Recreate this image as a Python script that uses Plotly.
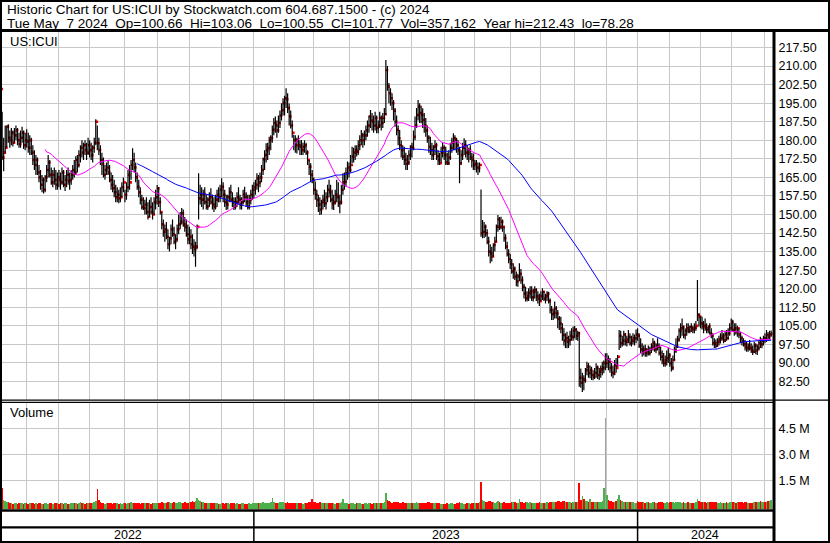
import plotly.graph_objects as go
import pandas as pd

# ---------------- data ----------------
months = ["2022-05", "2022-06", "2022-07", "2022-08", "2022-09", "2022-10", "2022-11", "2022-12",
          "2023-01", "2023-02", "2023-03", "2023-04", "2023-05", "2023-06", "2023-07", "2023-08",
          "2023-09", "2023-10", "2023-11", "2023-12", "2024-01", "2024-02", "2024-03", "2024-04", "2024-05"]

high_by_month = [
    [203, 191.5, 181, 186, 186, 186.5, 184, 185, 184, 185, 186, 185, 183, 184, 185.5, 184, 183],
    [184.5, 183, 182, 181, 178, 176, 174, 173, 170, 168, 166, 165, 166, 170, 174, 172, 169, 168, 169, 168, 167],
    [168, 167, 169, 168, 166, 168, 169, 167, 168, 170, 172, 173.5, 174, 176, 178, 180, 179, 180, 179, 181],
    [180, 179, 178, 181, 188.5, 186, 181, 178, 175, 173, 170, 171, 172, 170, 167, 166, 164, 162, 161, 160, 161, 163, 165],
    [160, 163, 168, 170, 172, 176.8, 175, 171, 167, 164, 161, 158, 157, 156, 157, 155, 156, 157, 155, 157, 160],
    [161.9, 161, 157, 151, 148, 146, 147, 144, 141, 146, 148, 145, 142, 146, 150, 151, 152.6, 152, 149, 148, 146],
    [145, 144, 142, 140, 139, 146, 166.7, 162, 161, 160, 161, 158, 157, 159, 160.6, 158, 157, 158, 160, 161, 162],
    [164.6, 163, 160, 158, 158, 161, 162, 159, 157, 157, 159, 161, 158, 157, 160, 161.2, 159, 158, 158, 160, 162],
    [163, 164, 166.7, 166, 167, 170, 173, 176, 178.8, 179, 181.4, 182, 186, 189, 189.6, 188, 190, 192, 195, 197],
    [198, 201, 199, 194.9, 192, 188, 182.1, 182, 181, 182, 180, 180.1, 179, 180, 179, 176, 172, 170.7, 168],
    [165, 163.3, 160, 158, 157, 156, 158, 160, 159, 162, 164, 162, 160, 158, 160, 164, 163, 158, 162, 166.7, 167, 169, 171.4],
    [171, 174, 177.4, 177, 178, 178, 180, 182, 184.2, 183, 184, 186, 188, 190, 192.2, 191, 190, 191.5, 190],
    [188, 191.5, 190, 191, 193, 212.43, 210, 203.2, 201, 199, 196.3, 193, 190, 186, 184.2, 180, 178, 177.4, 175, 174, 176, 178],
    [179, 184, 189.6, 193, 196.3, 195, 194, 192.9, 191, 189, 186, 182, 181.4, 179, 178, 180, 179, 176, 175, 177.4, 179],
    [178, 177.4, 175, 176, 179, 181, 182.8, 182, 181, 180, 177.4, 176, 179, 180.8, 180, 178, 177, 178, 175, 174.7],
    [172, 172, 171, 171, 160.1, 147.8, 147, 146, 144, 141, 138, 137, 138.4, 141, 146, 149.8, 149, 149.1, 148, 145, 142, 139, 136],
    [134, 132, 130.3, 129, 127, 126, 130.3, 128, 125, 122, 120.8, 119, 120.2, 121, 121, 120, 121, 120.2, 119, 118],
    [119, 120.2, 119, 118, 119, 118.8, 116, 113, 112, 114.8, 113, 111.4, 109, 108.7, 106, 104, 102, 102.6, 101, 103, 104, 104.7],
    [104.9, 104, 103, 102.6, 87.8, 86, 85, 88, 90.5, 90, 89, 88.5, 87, 88, 89.9, 89, 88, 89, 90.5, 91, 93.9],
    [93.9, 93, 92, 90, 89, 91.2, 92, 93.2, 103.3, 103, 101, 103, 102, 101, 103.3, 102, 101, 102, 101.5, 103.5],
    [104, 102, 100, 98, 97, 97.3, 96, 97, 96.5, 98, 100, 99, 98, 100, 98, 96.6, 95, 94, 93, 95, 96],
    [94, 92, 93, 96.6, 100, 101, 104, 106, 108, 105, 104, 106, 106, 105, 106, 105, 106, 107, 123.5, 110.1],
    [109, 108.7, 107, 108, 106, 105, 106, 104, 102, 100, 99.5, 100, 101, 102, 103.3, 102, 103, 103.3, 104, 106],
    [108, 107.5, 106, 106, 105, 104, 102.6, 101, 100, 99.3, 98.5, 98, 99.3, 98, 97, 98.6, 98, 97.5, 99, 100.6, 100, 101],
    [102, 103.3, 102.5, 103, 103.06],
]

low_by_month = [
    [198, 172, 167.5, 175, 177, 179, 177, 178, 177.5, 179, 180, 178, 177, 177, 179, 176.5, 176],
    [177, 175, 174, 174, 170, 168, 166, 166, 163, 160, 159, 158.5, 159, 163, 165, 165, 162, 161, 162, 160, 160],
    [161, 160, 162, 161, 159.5, 161, 162, 160, 162, 164, 165, 166, 167, 169, 171, 173, 172, 174, 172, 174],
    [173, 172, 171, 175, 178, 176, 174, 170, 166, 165, 164, 166, 166, 163, 160, 159, 157, 155, 155, 154.5, 155, 157, 159],
    [155, 156, 159, 160, 164, 168, 167, 163, 160, 157, 154, 152, 151.8, 150, 150, 148, 149, 150, 148, 150, 152],
    [154, 153, 150, 144, 141, 139, 140, 136, 135, 138, 141, 138, 136, 139, 142, 144, 146, 145, 143, 141, 138],
    [138, 136, 134, 133, 128.9, 136, 148, 154, 153, 152, 154, 152, 151.8, 153, 154, 152, 151, 152, 153, 155, 155],
    [157, 155, 153, 151.8, 152, 155, 155, 153, 151.8, 152, 153, 154, 152, 152, 154, 155, 153, 152, 152, 154, 156],
    [156.5, 158, 160, 159, 161, 163, 166, 168, 171, 172, 174, 176, 179, 182, 183, 181, 183, 185, 188, 190],
    [190, 193, 191, 186, 184.8, 181, 176, 175, 174.7, 176, 174, 174, 174, 175, 174, 170, 166, 163, 162.6],
    [158, 156, 153, 151, 149.8, 150, 152, 153, 152, 155, 157, 155, 152, 151.8, 154, 155, 153, 150.5, 154, 158, 160, 161.2, 164],
    [165, 167, 170.7, 171, 172, 173.4, 174, 176, 178, 177, 178, 180, 181.4, 183, 185, 184, 183, 184, 182.8],
    [182.8, 185, 184, 185, 187, 190.2, 200, 195, 194, 192.2, 188, 185.5, 182, 178, 176, 173, 172, 170, 168, 168, 170, 172],
    [173, 176, 180, 185, 188, 187, 186.9, 185, 183, 181.4, 179, 175, 174, 172, 172, 174, 172, 170, 170, 171, 173],
    [172, 170, 170, 170, 172, 175, 176.1, 176, 175, 174, 162.6, 170, 172, 174, 173, 172, 171, 172, 169, 168],
    [168, 167, 166, 167, 141, 140.4, 140.5, 141, 138, 133, 130.3, 131, 132.9, 135, 139, 143, 143.7, 144, 143, 139, 136, 133, 130.3],
    [128, 126, 124, 123.5, 121, 120.8, 123, 122, 119, 116, 114.8, 114.8, 115, 116, 115, 114.8, 116, 115, 114, 113],
    [114.8, 115.4, 115, 114, 115, 114, 110, 107.4, 107.4, 108, 108, 104, 103.3, 102, 99, 97, 96, 95.9, 96, 97, 99, 99],
    [100, 99.3, 99, 80.4, 80, 78.28, 79, 82, 85, 84, 83.8, 83.1, 83, 83.5, 84, 83.5, 83.1, 84, 85, 85.8, 87],
    [88, 87, 86, 84.5, 83.8, 85, 86, 88.5, 95.2, 96, 96.6, 97, 97, 96.6, 98, 97, 96.6, 97.5, 97, 98],
    [99, 96, 94, 92.5, 93, 92.5, 92.5, 93, 93, 94, 95, 94.5, 93.9, 95, 93, 91, 89.5, 88.5, 88.5, 89, 90],
    [88.5, 86.5, 87, 91, 94, 96, 98.6, 100, 101, 100, 99.5, 101, 102, 102, 102.5, 102, 102, 103, 107, 104.7],
    [104, 103.5, 102, 103, 102, 102, 101.5, 100, 97, 96, 95.9, 96.5, 97, 97.9, 99, 98, 98.5, 99, 99.5, 101],
    [103, 102.6, 101, 101.5, 100.6, 100, 98, 97, 96.6, 95, 94.5, 94.5, 95, 94, 93.2, 94, 93.5, 93.2, 95, 96, 95.9, 97],
    [98, 98.5, 99.3, 99.5, 100.55],
]

close_by_month = [
    [200.7, 173, 175, 177, 185.5, 181, 180, 183, 179, 182, 184, 180, 178.5, 181, 183, 178, 180],
    [179.5, 177, 180, 175, 172, 170, 172, 167, 165, 162, 164, 160, 165, 168, 171, 166, 163, 166, 164, 162, 165],
    [164, 163, 167, 162, 164, 166, 163.5, 164, 166, 168, 167, 172, 170, 174, 177, 175, 178, 176, 175, 178],
    [176, 174, 177, 179, 187.5, 178.8, 176, 172, 170.4, 166, 168, 169, 167, 164, 162, 160.6, 159, 157, 158, 156.5, 157, 161, 163],
    [158, 161, 166, 163, 170, 172, 169, 165, 161.2, 159, 156, 153, 152.6, 154, 151, 149.1, 153, 151, 150, 155, 157],
    [160.6, 155, 151, 146, 143, 144, 141, 138, 140.4, 144, 142, 139, 140, 144, 146, 147, 150.5, 146, 145, 142, 140],
    [141, 138, 137, 136, 137, 145, 156.5, 158, 156, 158.3, 155, 153.2, 156, 157, 155, 154, 153, 156, 158, 157, 160],
    [161.2, 158, 155, 154, 157, 159, 156, 155, 153.2, 155, 157, 156, 154, 155, 158, 157, 155, 153.2, 156, 158, 160],
    [161, 162, 164.6, 163, 165, 168, 172.3, 174, 176, 177, 180, 181, 184.2, 187, 186, 184, 187, 190, 192.2, 195],
    [197, 196.6, 193, 189.6, 186, 183, 180.1, 178, 180, 178, 177.4, 176, 177.4, 178, 175, 172, 169.3, 166, 164],
    [160, 158, 155.9, 154, 152, 155, 156, 154.5, 157, 160, 159, 156, 154.5, 155, 158, 157, 154.6, 155, 160, 163, 163.3, 166.7, 169],
    [168, 170, 173.4, 175, 176, 175.4, 178, 180, 182, 180, 182, 184, 186, 189.6, 188, 187.5, 186, 189, 185],
    [186, 189, 187, 189, 190.5, 208.4, 201.7, 199, 197, 195, 192, 187.5, 184.2, 180.8, 178, 176, 173.4, 172, 170.5, 171, 174, 177.4],
    [176.8, 181.4, 186, 190.2, 193.6, 191, 190.2, 188.2, 186, 184, 181, 177.4, 176, 174, 177.4, 178, 173.5, 172, 170.7, 175, 177],
    [174, 171, 170.7, 173, 177, 179, 180.8, 180.1, 178, 176, 170.7, 174, 177, 178, 175, 174.7, 176, 173, 172, 170],
    [170.5, 169, 168.7, 170, 142.4, 143, 145, 142.4, 139, 135, 134.3, 133, 137.7, 139, 145.1, 148, 145, 147, 145, 140.4, 137, 134, 132],
    [130, 127, 128, 124.9, 123, 125, 126, 123.5, 120.8, 118, 116.1, 117, 118.2, 119, 116.5, 118.8, 119.5, 117, 116, 115],
    [117, 118.8, 116, 117, 118, 115, 111.4, 109.7, 110.3, 112, 110, 107.8, 106, 104, 101.3, 99, 100, 98.6, 99.3, 101, 100.5, 103],
    [103.5, 101, 102, 84, 82.0, 83.5, 83.0, 87.1, 88.5, 86, 87.1, 85.1, 84.4, 86, 88, 85.1, 86.5, 87.5, 88, 90, 90],
    [91.5, 90.5, 88, 86, 85.8, 89, 88, 92.5, 101, 97.9, 99, 101.5, 98.6, 99.5, 100.5, 98, 99, 100, 100, 101.5],
    [101, 97, 95.5, 94.5, 95.5, 93.9, 95, 94, 95.5, 96.6, 98, 95.5, 97, 96.6, 94, 92.5, 91, 89.9, 91, 92, 93],
    [89.9, 88, 91.2, 95, 96.6, 99.5, 103, 104, 104.6, 101.3, 103, 104, 103, 104.5, 104, 103.5, 104.2, 105, 109.5, 108.7],
    [106, 104.7, 105, 104, 103.5, 104.7, 102, 101, 98, 97.9, 97, 98.5, 99.5, 100, 101, 99, 101.5, 100, 102, 104],
    [106.5, 103.3, 104, 102.5, 104, 101.5, 100, 98.6, 97.5, 96.5, 95.9, 97, 96, 95, 94.5, 97, 95, 96, 98, 97.5, 99, 100],
    [99.5, 101.3, 100.5, 101.5, 101.77],
]

volume_k_by_month = [
    [900, 1080, 380, 320, 260, 220, 200, 180, 160, 210, 190, 150, 170, 200, 170, 150, 190],
    [170, 150, 200, 210, 170, 160, 190, 150, 210, 180, 160, 140, 200, 170, 150, 180, 210, 160, 170, 200, 170],
    [150, 190, 170, 140, 170, 200, 160, 150, 180, 210, 170, 190, 160, 210, 250, 180, 170, 160, 200, 170],
    [190, 170, 210, 260, 320, 980, 360, 230, 200, 180, 160, 170, 210, 190, 170, 150, 180, 210, 170, 160, 200, 160, 190],
    [170, 160, 190, 210, 230, 210, 180, 170, 200, 170, 160, 180, 210, 190, 170, 200, 170, 160, 190, 210, 180],
    [200, 210, 180, 230, 200, 190, 210, 250, 220, 200, 190, 230, 210, 200, 230, 250, 210, 190, 230, 210, 200],
    [230, 250, 290, 260, 310, 500, 350, 300, 250, 230, 210, 200, 190, 180, 210, 200, 170, 190, 170, 160, 150],
    [180, 170, 160, 190, 170, 150, 170, 200, 180, 160, 170, 150, 140, 170, 180, 160, 130, 150, 170, 160, 170],
    [180, 210, 190, 170, 200, 210, 230, 210, 190, 210, 200, 230, 500, 250, 210, 200, 190, 230, 250, 220],
    [210, 200, 230, 190, 210, 180, 210, 200, 170, 190, 210, 170, 160, 180, 200, 210, 230, 250, 400],
    [250, 230, 210, 200, 220, 190, 170, 210, 180, 200, 170, 190, 210, 170, 160, 180, 200, 210, 250, 400, 210, 190, 170],
    [160, 180, 200, 170, 160, 190, 210, 180, 160, 150, 170, 190, 160, 200, 180, 160, 170, 190, 210],
    [200, 180, 210, 190, 250, 750, 380, 280, 230, 210, 250, 270, 230, 250, 210, 200, 230, 190, 180, 210, 190, 170],
    [180, 200, 210, 230, 210, 190, 170, 200, 180, 210, 230, 250, 210, 190, 170, 200, 210, 180, 200, 160, 150],
    [150, 160, 180, 160, 170, 190, 160, 150, 180, 200, 250, 210, 180, 160, 150, 170, 190, 160, 180, 200],
    [190, 170, 210, 250, 1400, 350, 300, 260, 240, 280, 300, 250, 220, 200, 260, 280, 230, 210, 190, 220, 200, 190, 210],
    [200, 220, 240, 250, 210, 190, 400, 240, 220, 210, 250, 230, 200, 220, 190, 180, 210, 190, 200, 220],
    [190, 210, 180, 200, 220, 190, 250, 270, 230, 220, 250, 280, 300, 250, 320, 300, 250, 230, 220, 250, 210, 230],
    [220, 230, 250, 1330, 350, 600, 450, 320, 290, 250, 450, 270, 250, 230, 220, 250, 230, 270, 300, 1040, 5080],
    [630, 360, 320, 290, 250, 270, 300, 450, 630, 340, 320, 250, 230, 270, 250, 220, 230, 250, 180, 200],
    [290, 250, 230, 270, 220, 200, 230, 250, 210, 190, 220, 230, 200, 180, 220, 250, 230, 210, 190, 220, 200],
    [230, 250, 220, 200, 230, 250, 270, 220, 200, 230, 210, 190, 220, 200, 180, 210, 190, 230, 420, 330],
    [270, 250, 230, 220, 200, 230, 250, 220, 270, 230, 220, 200, 180, 220, 200, 190, 210, 220, 200, 230],
    [250, 230, 220, 200, 220, 230, 250, 220, 200, 230, 220, 190, 210, 200, 180, 220, 230, 250, 270, 290, 250, 230],
    [270, 250, 290, 310, 357.162],
]

price_tick_text = ["82.50", "90.00", "97.50", "105.00", "112.50", "120.00", "127.50", "135.00",
                   "142.50", "150.00", "157.50", "165.00", "172.50", "180.00", "187.50", "195.00",
                   "202.50", "210.00", "217.50"]
volume_tick_text = ["1.5 M", "3.0 M", "4.5 M"]
volume_tick_vals = [1.5e6, 3.0e6, 4.5e6]

header_1 = "Historic Chart for US:ICUI by Stockwatch.com 604.687.1500 - (c) 2024"
header_2 = "Tue May  7 2024  Op=100.66  Hi=103.06  Lo=100.55  Cl=101.77  Vol=357,162  Year hi=212.43  lo=78.28"
symbol_label = "US:ICUI"
volume_label = "Volume"

# ---------------- derived ----------------
high = [v for m in high_by_month for v in m]
low = [v for m in low_by_month for v in m]
close = [v for m in close_by_month for v in m]
volume = [v * 1000 for m in volume_k_by_month for v in m]
N = len(close)
assert len(high) == N and len(low) == N and len(volume) == N, (len(high), len(low), len(close), len(volume))
idx = list(range(N))

month_start = []
pos = 0
for m in close_by_month:
    month_start.append(pos)
    pos += len(m)
grid_idx = month_start[1:]
year_of = [mo[:4] for mo in months]
year_start = [month_start[k] for k in range(1, len(months)) if year_of[k] != year_of[k - 1]]
years = sorted(set(year_of))

ma_fast = pd.Series(close).rolling(30).mean()
ma_slow = pd.Series(close).rolling(90).mean()

vol_colors = []
for i in range(N):
    if i == 0 or close[i] < close[i - 1]:
        vol_colors.append("#FF0000")
    elif close[i] > close[i - 1]:
        vol_colors.append("#4CB14C")
    else:
        vol_colors.append("#A0A0A0")

# ---------------- geometry (pixels) ----------------
W, H = 830, 543
FONT = "Liberation Sans, Arial, sans-serif"


def px(x):
    return x / W


def py(y):
    return 1 - y / H


XR = [0.91, 502.9]
PLOT_L, PLOT_R = 2, 772.5
PRICE_TOP, PRICE_BOT = 31.5, 399.5
VOL_TOP, VOL_BOT = 402.5, 509
PRICE_RANGE = [217.5 - (PRICE_BOT - 47.5) / 2.474, 217.5 + (47.5 - PRICE_TOP) / 2.474]
VOL_PX_PER_UNIT = 26 / 1.5e6
VOL_ZERO_PX = 506.3
VOL_RANGE = [-(VOL_BOT - VOL_ZERO_PX) / VOL_PX_PER_UNIT, (VOL_ZERO_PX - VOL_TOP) / VOL_PX_PER_UNIT]

# ---------------- traces ----------------
bx, by = [], []
for i in idx:
    bx += [i, i, None]
    by += [low[i], high[i], None]

fig = go.Figure()
fig.add_trace(go.Scatter(x=[i + 0.75 for i in idx], y=close, mode="markers",
                         marker=dict(symbol="square", size=2.6, color="#FF0000", line=dict(width=0)),
                         xaxis="x", yaxis="y", hoverinfo="skip"))
fig.add_trace(go.Scatter(x=bx, y=by, mode="lines", line=dict(color="black", width=1.2),
                         xaxis="x", yaxis="y", hoverinfo="skip"))
fig.add_trace(go.Scatter(x=idx, y=ma_fast, mode="lines", line=dict(color="#FF00FF", width=1),
                         xaxis="x", yaxis="y", hoverinfo="skip"))
fig.add_trace(go.Scatter(x=idx, y=ma_slow, mode="lines", line=dict(color="#0000FF", width=1),
                         xaxis="x", yaxis="y", hoverinfo="skip"))
fig.add_trace(go.Bar(x=idx, y=[v - VOL_RANGE[0] for v in volume], base=VOL_RANGE[0],
                     marker=dict(color=vol_colors, line=dict(width=0)), width=1.0,
                     xaxis="x2", yaxis="y2", hoverinfo="skip"))

grid = "#C8C8C8"
xcommon = dict(range=XR, domain=[px(PLOT_L), px(PLOT_R)], tickmode="array", tickvals=grid_idx,
               showticklabels=False, ticks="", showgrid=True, gridcolor=grid, gridwidth=1,
               zeroline=False, showline=False, automargin=False, fixedrange=True)
fig.update_layout(
    width=W, height=H, template="none",
    margin=dict(l=0, r=0, t=0, b=0, pad=0),
    paper_bgcolor="white", plot_bgcolor="white", showlegend=False, bargap=0, hovermode=False,
    font=dict(family=FONT, size=13, color="black"),
    xaxis=dict(anchor="y", **xcommon),
    xaxis2=dict(anchor="y2", matches="x", **xcommon),
    yaxis=dict(domain=[py(PRICE_BOT), py(PRICE_TOP)], range=PRICE_RANGE, side="right", anchor="x",
               tickmode="array", tickvals=[float(t) for t in price_tick_text], ticktext=price_tick_text,
               ticks="", ticklabelstandoff=5, tickfont=dict(family=FONT, size=12.5, color="black"),
               showgrid=True, gridcolor=grid, gridwidth=1, zeroline=False, showline=False,
               automargin=False, fixedrange=True),
    yaxis2=dict(domain=[py(VOL_BOT), py(VOL_TOP)], range=VOL_RANGE, side="right", anchor="x2",
                tickmode="array", tickvals=volume_tick_vals, ticktext=volume_tick_text,
                ticks="", ticklabelstandoff=5, tickfont=dict(family=FONT, size=12.5, color="black"),
                showgrid=True, gridcolor=grid, gridwidth=1, zeroline=False, showline=False,
                automargin=False, fixedrange=True),
)

shapes = []


def pline(x0, y0, x1, y1, w):
    shapes.append(dict(type="line", xref="paper", yref="paper", x0=px(x0), y0=py(y0), x1=px(x1), y1=py(y1),
                       line=dict(color="black", width=w), layer="above"))


pline(0, 30.5, W, 30.5, 3)          # header separator
pline(774, 30.5, 774, H, 3)         # right label column separator
pline(0, 400.2, W, 400.2, 1.2)      # panel separator (double)
pline(0, 402.3, 774, 402.3, 1.2)
pline(0, 510.5, 774, 510.5, 2.5)    # bottom of volume panel
pline(0, 527.3, 774, 527.3, 2.3)    # year row top
shapes.append(dict(type="rect", xref="paper", yref="paper", x0=px(1), y0=py(1), x1=px(W - 1), y1=py(H - 1),
                   line=dict(color="black", width=2), layer="above"))
for ys in year_start:
    shapes.append(dict(type="line", xref="x", yref="paper", x0=ys, x1=ys, y0=py(510), y1=py(541.5),
                       line=dict(color="black", width=1.5), layer="above"))
fig.update_layout(shapes=shapes)

ann = []


def ptext(text, x, y, size=13, xanchor="left"):
    ann.append(dict(text=text, xref="paper", yref="paper", x=px(x), y=py(y), xanchor=xanchor,
                    yanchor="middle", showarrow=False, borderpad=0,
                    font=dict(family=FONT, size=size, color="black")))


ptext(header_1, 5.5, 9.5, 13.5)
ptext(header_2.replace("  ", " \u00a0"), 5.5, 23, 13.5)
ptext(symbol_label, 8.5, 41.5, 13)
ptext(volume_label, 8.5, 413, 13)

bounds = [XR[0]] + year_start + [XR[1]]
for k, yr in enumerate(years):
    ann.append(dict(text=yr, xref="x", yref="paper", x=(bounds[k] + bounds[k + 1]) / 2, y=py(535),
                    xanchor="center", yanchor="middle", showarrow=False, borderpad=0,
                    font=dict(family=FONT, size=12.5, color="black")))
fig.update_layout(annotations=ann)

fig.write_html("out.html", include_plotlyjs=True,
               config={"displayModeBar": False, "staticPlot": True},
               post_script="document.body.style.margin='0px';document.body.style.padding='0px';"
                           "document.documentElement.style.overflow='hidden';")
